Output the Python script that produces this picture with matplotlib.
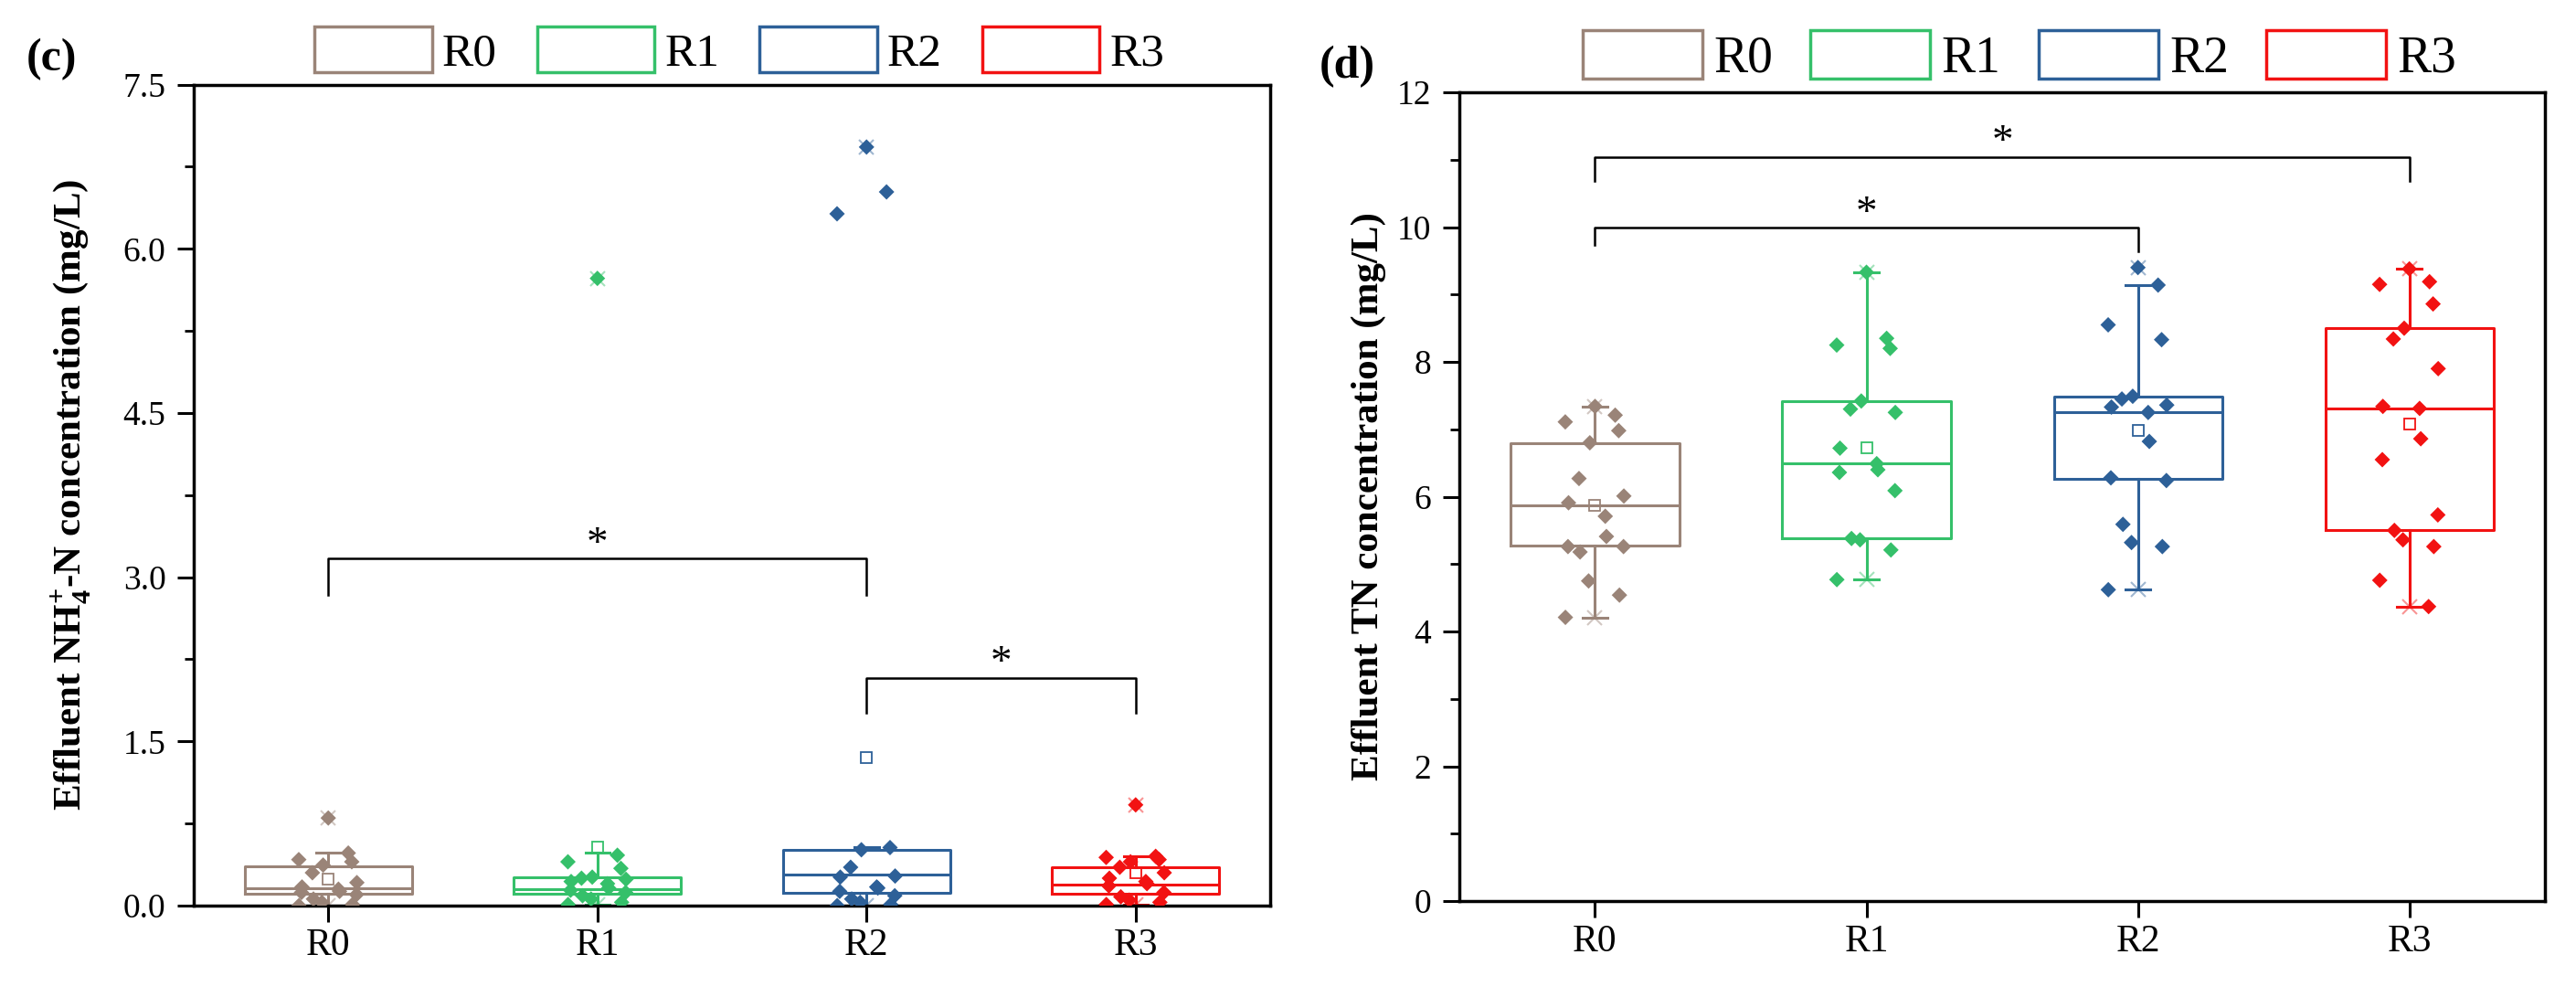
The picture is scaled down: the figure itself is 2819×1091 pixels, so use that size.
import matplotlib

matplotlib.use("Agg")
import matplotlib.pyplot as plt  # noqa: E402
import numpy as np  # noqa: E402
from matplotlib.patches import Patch  # noqa: E402
from matplotlib.ticker import FormatStrFormatter, MultipleLocator  # noqa: E402

plt.rcParams["font.family"] = ["Liberation Serif", "DejaVu Serif"]
plt.rcParams["mathtext.fontset"] = "custom"
plt.rcParams["mathtext.rm"] = "Liberation Serif"
plt.rcParams["mathtext.bf"] = "Liberation Serif:bold"

groups = ["R0", "R1", "R2", "R3"]
colors = ["#9a8478", "#35c06a", "#2d6098", "#f21212"]

# panel (c): effluent NH4+-N (mg/L)
nh4_r0 = [0.80, 0.48, 0.42, 0.40, 0.37, 0.30, 0.21, 0.17, 0.15, 0.13, 0.12, 0.10, 0.06, 0.03, 0.01, 0.00]
nh4_r1 = [5.73, 0.46, 0.40, 0.34, 0.26, 0.25, 0.24, 0.22, 0.20, 0.16, 0.14, 0.12, 0.09, 0.06, 0.03, 0.01]
nh4_r2 = [6.93, 6.52, 6.32, 0.53, 0.51, 0.35, 0.27, 0.26, 0.17, 0.16, 0.13, 0.09, 0.06, 0.03, 0.01, 0.00]
nh4_r3 = [0.92, 0.45, 0.44, 0.42, 0.40, 0.35, 0.30, 0.25, 0.22, 0.20, 0.18, 0.12, 0.08, 0.05, 0.03, 0.01]
nh4_q1 = [0.11, 0.11, 0.12, 0.11]
nh4_med = [0.16, 0.15, 0.28, 0.19]
nh4_q3 = [0.36, 0.26, 0.51, 0.35]
nh4_lo = [0.00, 0.01, 0.00, 0.01]
nh4_hi = [0.48, 0.48, 0.53, 0.45]
nh4_mean = [0.24, 0.53, 1.35, 0.30]
nh4_brackets = [(0, 2, 3.17, 0.33, 0.33), (2, 3, 2.08, 0.32, 0.32)]

# panel (d): effluent TN (mg/L)
tn_r0 = [7.34, 7.21, 7.11, 6.98, 6.80, 6.27, 6.01, 5.91, 5.71, 5.41, 5.26, 5.26, 5.18, 4.75, 4.54, 4.21]
tn_r1 = [9.33, 8.35, 8.25, 8.20, 7.42, 7.30, 7.25, 6.72, 6.49, 6.40, 6.36, 6.09, 5.38, 5.36, 5.21, 4.77]
tn_r2 = [9.40, 9.14, 8.55, 8.33, 7.49, 7.45, 7.36, 7.33, 7.25, 6.82, 6.28, 6.24, 5.59, 5.32, 5.26, 4.62]
tn_r3 = [9.38, 9.19, 9.15, 8.86, 8.50, 8.34, 7.90, 7.34, 7.31, 6.86, 6.55, 5.73, 5.50, 5.36, 5.26, 4.76, 4.37]
tn_q1 = [5.27, 5.39, 6.26, 5.50]
tn_med = [5.87, 6.50, 7.25, 7.31]
tn_q3 = [6.80, 7.42, 7.48, 8.50]
tn_lo = [4.21, 4.77, 4.62, 4.37]
tn_hi = [7.33, 9.33, 9.14, 9.38]
tn_mean = [5.87, 6.72, 6.99, 7.08]
tn_brackets = [(0, 3, 11.04, 0.36, 0.36), (0, 2, 9.99, 0.25, 0.35)]


def jitter(n):
    return 0.11 * np.sin(np.arange(n) * 2.39996)


def draw_panel(ax, data, q1, med, q3, lo, hi, mean, brackets, ymax, leg):
    for i, (vals, c) in enumerate(zip(data, colors)):
        pos = i + 1
        st = dict(q1=q1[i], med=med[i], q3=q3[i], whislo=lo[i], whishi=hi[i], fliers=[])
        lp = dict(color=c, linewidth=2.2)
        ax.bxp([st], positions=[pos], widths=0.62, capwidths=0.09, showfliers=False,
               boxprops=lp, whiskerprops=lp, capprops=lp, medianprops=lp)
        vals = np.asarray(vals)
        ax.scatter(pos + jitter(len(vals)), vals, marker="D", s=75, color=c,
                   edgecolors="none", zorder=3)
        ax.plot([pos, pos], [vals.min(), vals.max()], "x", color=c, alpha=0.45,
                ms=11, mew=1.5, zorder=2)
        ax.plot(pos, mean[i], "s", mfc="none", mec=c, ms=8, mew=1.3, zorder=4)
    for a, b, y, da, db in brackets:
        ax.plot([a + 1, a + 1, b + 1, b + 1], [y - da, y, y, y - db], color="k", lw=1.8)
        ax.text((a + b) / 2 + 1, y + 0.004 * ymax, "*", ha="center", va="baseline",
                fontsize=34)
    ax.set_xlim(0.5, 4.5)
    ax.set_ylim(0, ymax)
    ax.set_xticks(range(1, 5))
    ax.set_xticklabels(groups)
    for s in ax.spines.values():
        s.set_linewidth(2.5)
    ax.tick_params(direction="out", length=13, width=2.2, top=False, right=False)
    ax.tick_params(axis="x", labelsize=30, pad=5)
    ax.tick_params(axis="y", labelsize=27, pad=9)
    ax.tick_params(which="minor", direction="out", length=7, width=2.0)
    size, hl, hh, cs, lx, ly = leg
    handles = [Patch(facecolor="white", edgecolor=c, linewidth=2.5) for c in colors]
    ax.legend(handles, groups, loc="center", bbox_to_anchor=(lx, ly), ncol=4,
              frameon=False, fontsize=size, handlelength=hl, handleheight=hh,
              handletextpad=0.22, columnspacing=cs, borderaxespad=0, borderpad=0)


fig = plt.figure(figsize=(28.19, 10.91), dpi=100)
ax1 = fig.add_axes([0.0752, 0.0917, 0.4179, 0.8234])
ax2 = fig.add_axes([0.5665, 0.0962, 0.4215, 0.8112])

draw_panel(ax1, [nh4_r0, nh4_r1, nh4_r2, nh4_r3], nh4_q1, nh4_med, nh4_q3,
           nh4_lo, nh4_hi, nh4_mean, nh4_brackets, 7.5,
           (37, 2.5, 1.13, 0.85, 0.507, 1.041))
ax1.yaxis.set_major_locator(MultipleLocator(1.5))
ax1.yaxis.set_minor_locator(MultipleLocator(0.75))
ax1.yaxis.set_major_formatter(FormatStrFormatter("%.1f"))
ax1.set_ylabel(r"Effluent NH$_\mathbf{4}^\mathbf{+}$-N concentration (mg/L)",
               fontsize=31, fontweight="bold")
ax1.yaxis.set_label_coords(-0.093, 0.5)

draw_panel(ax2, [tn_r0, tn_r1, tn_r2, tn_r3], tn_q1, tn_med, tn_q3,
           tn_lo, tn_hi, tn_mean, tn_brackets, 12,
           (40, 2.36, 1.08, 0.74, 0.516, 1.044))
ax2.yaxis.set_major_locator(MultipleLocator(2))
ax2.yaxis.set_minor_locator(MultipleLocator(1))
ax2.set_ylabel("Effluent TN concentration (mg/L)", fontsize=31, fontweight="bold")
ax2.yaxis.set_label_coords(-0.067, 0.5)

fig.text(0.020, 0.940, "(c)", fontsize=36, fontweight="bold", ha="center", va="center")
fig.text(0.523, 0.933, "(d)", fontsize=36, fontweight="bold", ha="center", va="center")

fig.savefig("out.png", dpi=100)
